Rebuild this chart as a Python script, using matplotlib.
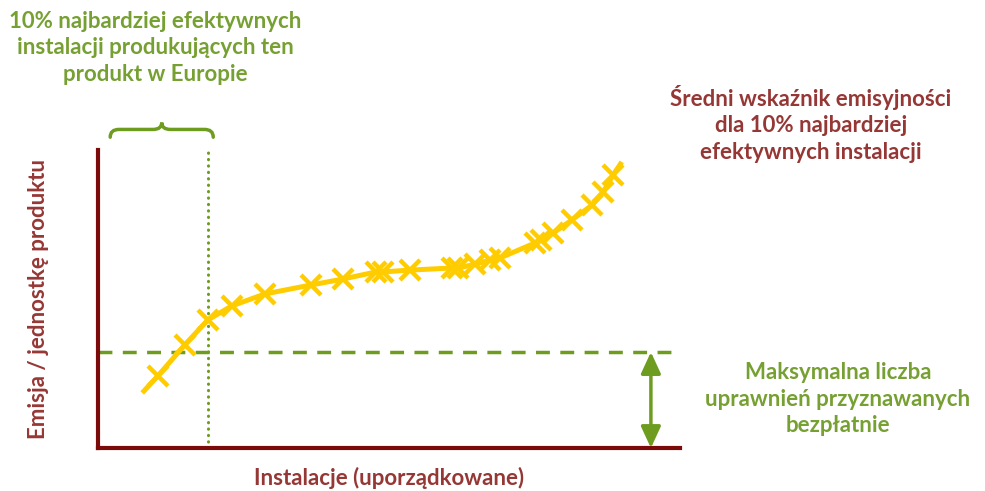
import matplotlib.pyplot as plt
from matplotlib.path import Path
from matplotlib.patches import PathPatch

# installations ordered by emission intensity (x: share of installations, y: emission)
marker_x = [10.3, 14.9, 18.9, 23.0, 28.7, 36.6, 42.1, 47.8, 49.0, 53.6, 60.8, 61.9,
            64.8, 67.4, 69.1, 75.1, 76.1, 78.2, 81.4, 84.9, 86.8, 88.5]
marker_y = [24.2, 34.6, 43.0, 47.7, 51.7, 54.7, 56.7, 59.1, 59.1, 59.7, 60.4, 60.4,
            61.7, 63.1, 63.8, 68.8, 69.8, 72.1, 76.5, 81.5, 85.9, 91.6]
curve_x = [7.6] + marker_x + [90.0]
curve_y = [18.5] + marker_y + [96.0]

benchmark = 32.2      # emission of the 10% best installations
top10_x = 18.9        # 10% boundary
brace_x = [2.1, 19.8]
arrow_x = 95.0

dark_red = '#7b0a0a'
text_red = '#953735'
green = '#6e9c1e'
text_green = '#76a032'
yellow = '#ffcc00'

plt.rcParams['font.family'] = ['Lato', 'DejaVu Sans']
fs = 16

fig = plt.figure(figsize=(9.85, 4.91), dpi=100)
ax = fig.add_axes([98/985, 43/491, 582/985, 298/491])
ax.set_xlim(0, 100)
ax.set_ylim(0, 100)

for s in ['top', 'right']:
    ax.spines[s].set_visible(False)
for s in ['left', 'bottom']:
    ax.spines[s].set_color(dark_red)
    ax.spines[s].set_linewidth(3)
ax.set_xticks([])
ax.set_yticks([])

ax.plot(curve_x, curve_y, color=yellow, lw=3.6, solid_capstyle='butt', zorder=3)
ax.plot(marker_x, marker_y, ls='none', marker='x', ms=15, mew=3.2, color=yellow, zorder=4)

ax.axhline(benchmark, color=green, lw=2.5, ls=(0, (4, 3)), zorder=2)
ax.plot([top10_x, top10_x], [0, 101], color=green, lw=2.2, ls=(0, (0.1, 2.0)),
        dash_capstyle='round', clip_on=False, zorder=2)

# curly brace above the 10% region
x0, x1 = brace_x
xm = (x0 + x1) / 2
yb, yf, yp = 104.3, 106.9, 109.2
r = 1.5
verts = [(x0, yb), (x0, yf), (x0 + r, yf),
         (xm - r, yf), (xm, yf), (xm, yp),
         (xm, yf), (xm + r, yf),
         (x1 - r, yf), (x1, yf), (x1, yb)]
codes = [Path.MOVETO, Path.CURVE3, Path.CURVE3,
         Path.LINETO, Path.CURVE3, Path.CURVE3,
         Path.CURVE3, Path.CURVE3,
         Path.LINETO, Path.CURVE3, Path.CURVE3]
ax.add_patch(PathPatch(Path(verts, codes), fill=False, edgecolor=green, lw=2.5,
                       capstyle='round', clip_on=False))

ax.annotate('', xy=(arrow_x, benchmark), xytext=(arrow_x, 0),
            arrowprops=dict(arrowstyle='<|-|>,head_length=1.3,head_width=0.6',
                            color=green, lw=2.5, shrinkA=0, shrinkB=0))

ax.set_ylabel('Emisja / jednostkę produktu', color=text_red, fontsize=fs,
              fontweight='bold')
ax.yaxis.set_label_coords(-0.084, 0.5)
ax.set_xlabel('Instalacje (uporządkowane)', color=text_red, fontsize=fs,
              fontweight='bold')
ax.xaxis.set_label_coords(0.5, -0.065)

fig.text(155/985, 1 - 48/491,
         '10% najbardziej efektywnych\ninstalacji produkujących ten\nprodukt w Europie',
         ha='center', va='center', color=text_green, fontsize=fs, fontweight='bold',
         linespacing=1.3)
fig.text(811/985, 1 - 124/491,
         'Średni wskaźnik emisyjności\ndla 10% najbardziej\nefektywnych instalacji',
         ha='center', va='center', color=text_red, fontsize=fs, fontweight='bold',
         linespacing=1.3)
fig.text(838/985, 1 - 399/491,
         'Maksymalna liczba\nuprawnień przyznawanych\nbezpłatnie',
         ha='center', va='center', color=text_green, fontsize=fs, fontweight='bold',
         linespacing=1.3)

fig.savefig('out.png', dpi=100)
